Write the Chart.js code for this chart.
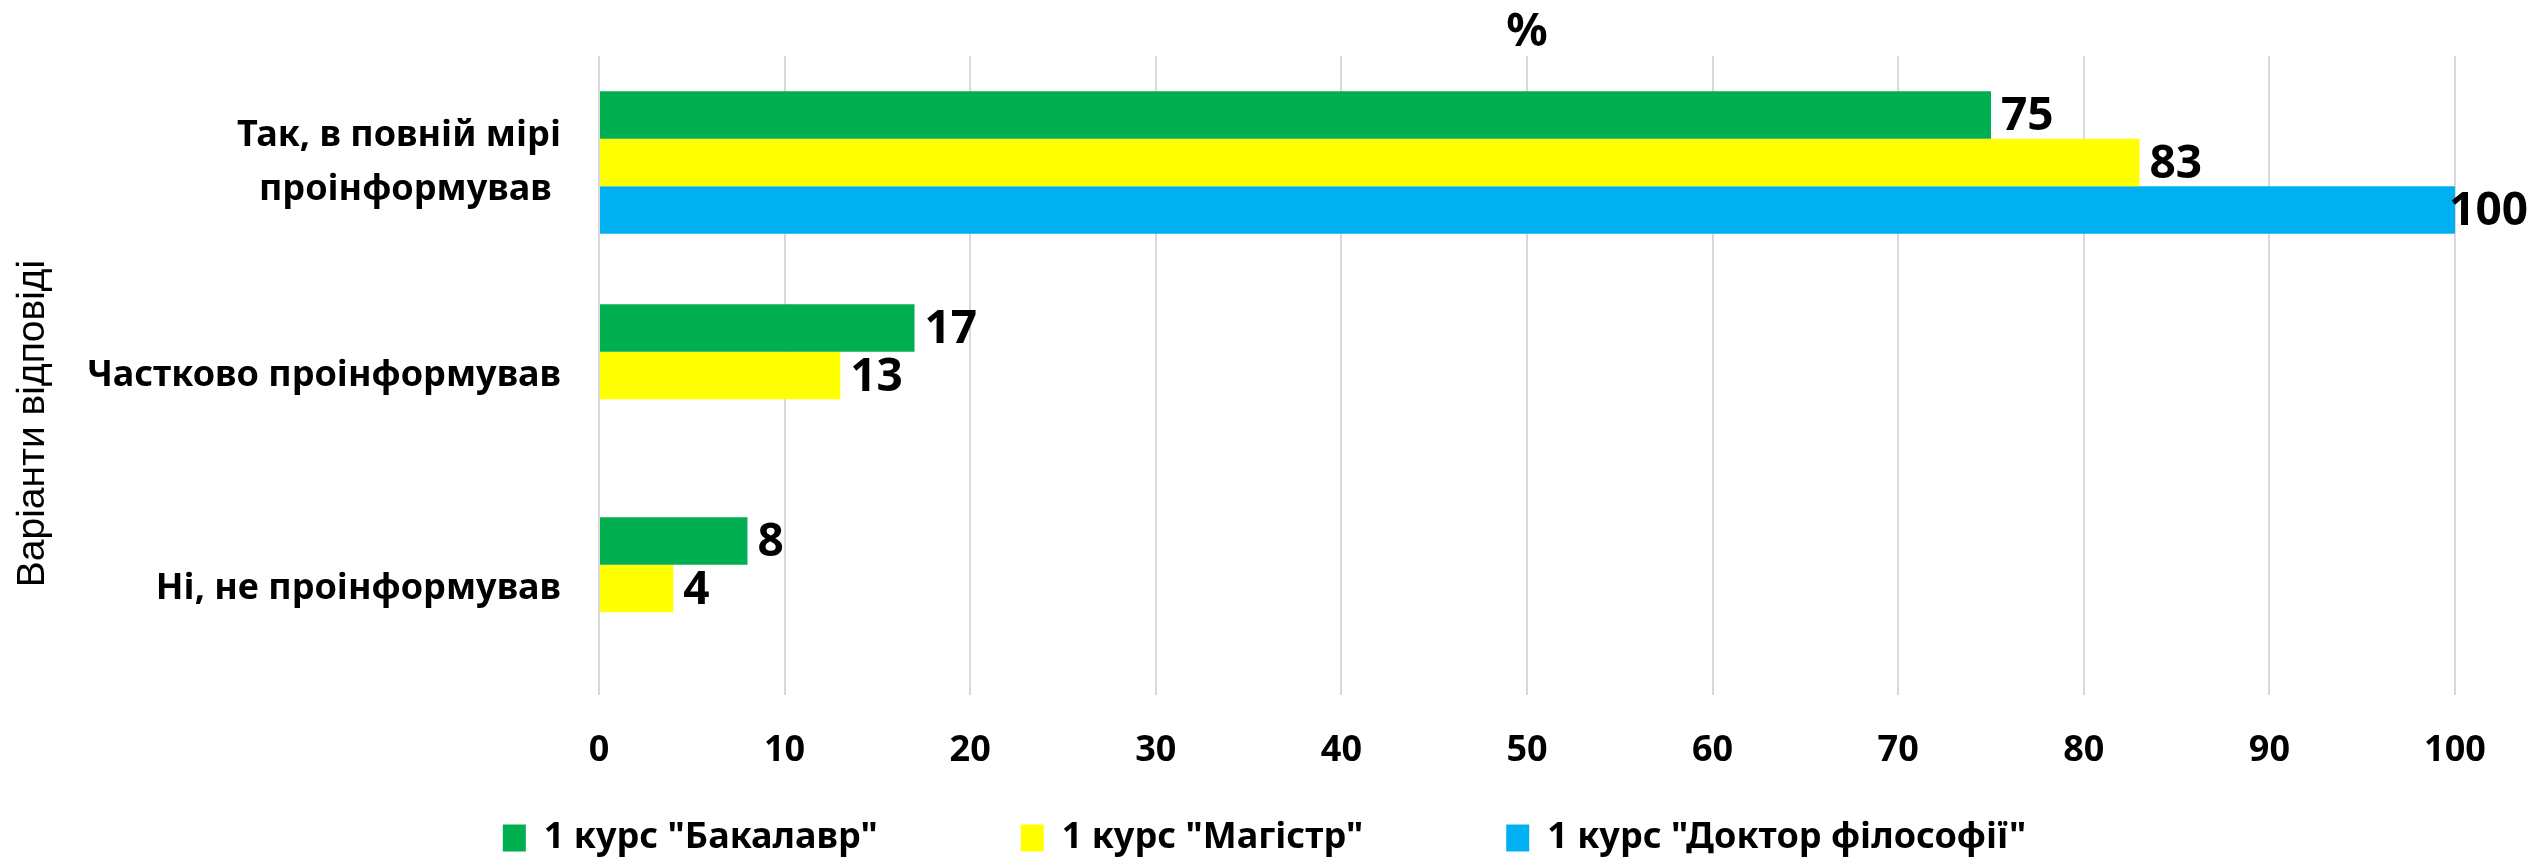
<!DOCTYPE html>
<html lang="uk">
<head>
<meta charset="utf-8">
<title>Варіанти відповіді</title>
<script src="https://cdn.jsdelivr.net/npm/chart.js@4.4.1/dist/chart.umd.min.js"></script>
<style>
  html, body { margin: 0; padding: 0; background: #ffffff; }
  #chart { display: block; }
</style>
</head>
<body>
<canvas id="chart" width="2529" height="859"></canvas>
<script>
// categories (top to bottom)
const categories = [
  ["Так, в повній мірі", "проінформував "],
  "Частково проінформував",
  "Ні, не проінформував",
];

// series values, %
const bakalavr = [75, 17, 8];
const magistr = [83, 13, 4];
const doktor = [100, null, null];

const seriesNames = [
  '1 курс "Бакалавр"',
  '1 курс "Магістр"',
  '1 курс "Доктор філософії"',
];
const colors = ["#00b050", "#ffff00", "#00b0f0"];

const xTicks = [0, 10, 20, 30, 40, 50, 60, 70, 80, 90, 100];

const FONT = "'Noto Sans', 'DejaVu Sans', sans-serif";
// extra blank after legend entries 1 and 2 (excel spreads them out)
const LEGEND_GAP = "\u00A0".repeat(11);

// value labels at the end of each bar (kept inside the canvas like excel does)
const barLabels = {
  id: "barLabels",
  afterDatasetsDraw(chart) {
    const ctx = chart.ctx;
    ctx.save();
    ctx.font = "bold 46px " + FONT;
    ctx.fillStyle = "#000000";
    ctx.textAlign = "left";
    ctx.textBaseline = "middle";
    chart.data.datasets.forEach((ds, i) => {
      const meta = chart.getDatasetMeta(i);
      meta.data.forEach((bar, j) => {
        const v = ds.data[j];
        if (v === null || v === undefined) return;
        const txt = String(v);
        const w = ctx.measureText(txt).width;
        const x = Math.min(bar.x + 10, chart.width - w - 1);
        ctx.fillText(txt, x, bar.y + 2);
      });
    });
    ctx.restore();
  },
};

// axis title, a bit below the middle of the plot
const yTitle = {
  id: "yTitle",
  afterDraw(chart) {
    const ctx = chart.ctx;
    const a = chart.chartArea;
    ctx.save();
    ctx.translate(33, (a.top + a.bottom) / 2 + 48);
    ctx.rotate(-Math.PI / 2);
    ctx.font = "39px 'Liberation Sans', Arial, sans-serif";
    ctx.fillStyle = "#000000";
    ctx.textAlign = "center";
    ctx.textBaseline = "middle";
    ctx.fillText("Варіанти відповіді", 0, 0);
    ctx.restore();
  },
};

new Chart(document.getElementById("chart"), {
  type: "bar",
  data: {
    labels: categories,
    datasets: seriesNames.map((name, i) => ({
      label: name,
      data: [bakalavr, magistr, doktor][i],
      backgroundColor: colors[i],
    })),
  },
  options: {
    indexAxis: "y",
    responsive: false,
    animation: false,
    devicePixelRatio: 1,
    layout: { padding: { left: 0, right: 0, top: 0, bottom: -7 } },
    datasets: {
      bar: { barPercentage: 1, categoryPercentage: 0.669, borderWidth: 0 },
    },
    scales: {
      x: {
        min: 0,
        max: 100,
        afterBuildTicks: (scale) => {
          scale.ticks = xTicks.map((v) => ({ value: v }));
        },
        afterFit: (scale) => {
          scale.height = 85;
        },
        grid: { color: "#d9d9d9", lineWidth: 2, drawTicks: false },
        border: { display: false },
        ticks: {
          padding: 34,
          color: "#000000",
          font: { family: FONT, size: 36, weight: "bold" },
        },
      },
      y: {
        afterFit: (scale) => {
          scale.width = 599;
          // labels sit in the middle of their bands, no extra room needed
          scale.paddingTop = 0;
          scale.paddingBottom = 0;
        },
        grid: { display: false, drawTicks: false },
        border: { display: false },
        ticks: {
          padding: 38,
          color: "#000000",
          font: { family: FONT, size: 36, weight: "bold", lineHeight: 1.5 },
        },
      },
      // empty right-hand strip, leaves room for the "100" label
      yRight: {
        type: "category",
        position: "right",
        display: true,
        afterFit: (scale) => {
          scale.width = 74;
          scale.paddingTop = 0;
          scale.paddingBottom = 0;
        },
        grid: { display: false, drawTicks: false },
        border: { display: false },
        ticks: { display: false },
      },
    },
    plugins: {
      title: {
        display: true,
        text: "%",
        fullSize: false,
        color: "#000000",
        padding: { top: 10, bottom: 0 },
        font: { family: FONT, size: 46, weight: "bold", lineHeight: 1 },
      },
      legend: {
        position: "bottom",
        labels: {
          color: "#000000",
          boxWidth: 23,
          boxHeight: 27,
          padding: 40,
          font: { family: FONT, size: 36, weight: "bold" },
          generateLabels: (chart) =>
            chart.data.datasets.map((ds, i) => ({
              text: i < 2 ? ds.label + LEGEND_GAP : ds.label,
              fillStyle: ds.backgroundColor,
              strokeStyle: ds.backgroundColor,
              lineWidth: 0,
              hidden: false,
              datasetIndex: i,
            })),
        },
      },
      tooltip: { enabled: false },
    },
  },
  plugins: [barLabels, yTitle],
});
</script>
</body>
</html>
